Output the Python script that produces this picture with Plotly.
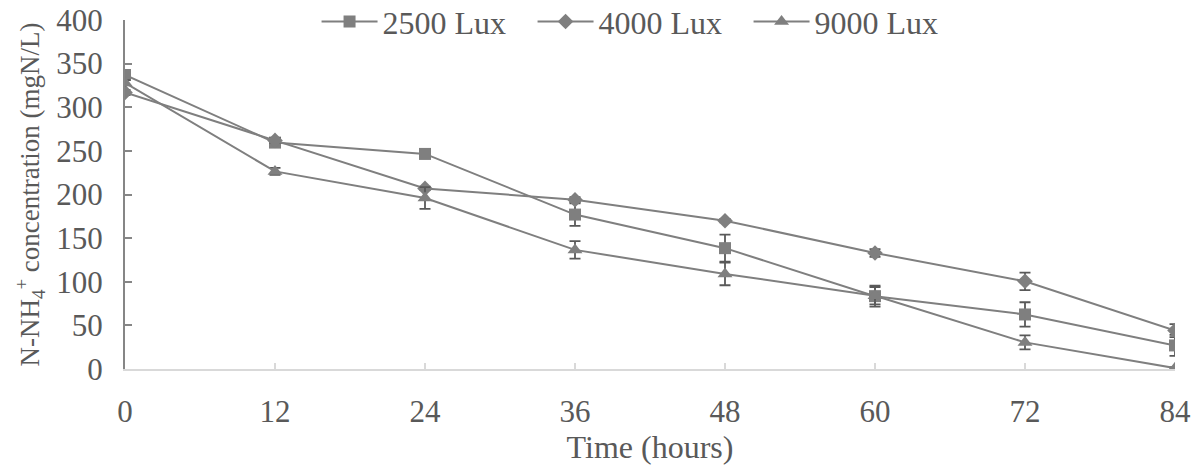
import plotly.graph_objects as go

# Sampling times (hours)
time_h = [0, 12, 24, 36, 48, 60, 72, 84]

# N-NH4+ concentration (mgN/L) and standard deviations per light intensity
lux_2500 = [337, 259.5, 246.5, 177, 138.5, 83.5, 62.5, 27]
err_2500 = [4, 5, 2, 13, 15.5, 12, 14, 12]

lux_4000 = [317, 262, 207, 194, 170, 133, 100.5, 44]
err_4000 = [3, 3, 2, 3, 2, 4.5, 10, 7.5]

lux_9000 = [328, 226.5, 196, 136.5, 109, 84, 30.5, 1]
err_9000 = [3, 4, 12.5, 10, 13, 10, 8, 1]

series_names = ["2500 Lux", "4000 Lux", "9000 Lux"]
y_ticks = [0, 50, 100, 150, 200, 250, 300, 350, 400]

LINE = "#7f7f7f"
ERR = "#595959"
TEXT = "#595959"
FONT = "Liberation Serif, Times New Roman, serif"
FS = 31

fig = go.Figure()
for name, vals, errs, sym, msize in [
    (series_names[0], lux_2500, err_2500, "square", 12),
    (series_names[1], lux_4000, err_4000, "diamond", 12),
    (series_names[2], lux_9000, err_9000, "triangle-up", 13),
]:
    fig.add_trace(go.Scatter(
        x=time_h, y=vals, name=name, mode="lines+markers",
        line=dict(color=LINE, width=2),
        marker=dict(symbol=sym, size=msize, color=LINE),
        error_y=dict(type="data", array=errs, visible=True,
                     color=ERR, thickness=1.8, width=5.5),
    ))

fig.update_layout(
    width=1201, height=474,
    margin=dict(l=125, r=26, t=20, b=104.5, autoexpand=False),
    paper_bgcolor="white", plot_bgcolor="white",
    font=dict(family=FONT, size=FS, color=TEXT),
    showlegend=True,
    legend=dict(orientation="h", x=0.491, xanchor="center", y=0.995, yanchor="middle",
                bgcolor="rgba(0,0,0,0)", font=dict(size=32, color=TEXT),
                itemwidth=56, entrywidth=145, entrywidthmode="pixels",
                tracegroupgap=0),
)
fig.update_xaxes(
    range=[0, 84], tickvals=time_h, showgrid=False, zeroline=False,
    showline=True, linecolor="#d9d9d9", linewidth=2,
    ticks="inside", ticklen=6, tickcolor="#d9d9d9", tickwidth=2,
    ticklabelstandoff=14,
    title=dict(text="Time (hours)", standoff=0, font=dict(size=32, color=TEXT)),
)
fig.update_yaxes(
    range=[0, 400], tickvals=y_ticks, showgrid=False, zeroline=False,
    showline=True, linecolor="#868686", linewidth=2,
    ticks="inside", ticklen=7, tickcolor="#868686", tickwidth=2,
    ticklabelstandoff=14,
    title=dict(text="N-NH<sub>4</sub><sup>+</sup> concentration (mgN/L)",
               standoff=9, font=dict(size=27, color=TEXT)),
)

fig.write_html("out.html")
